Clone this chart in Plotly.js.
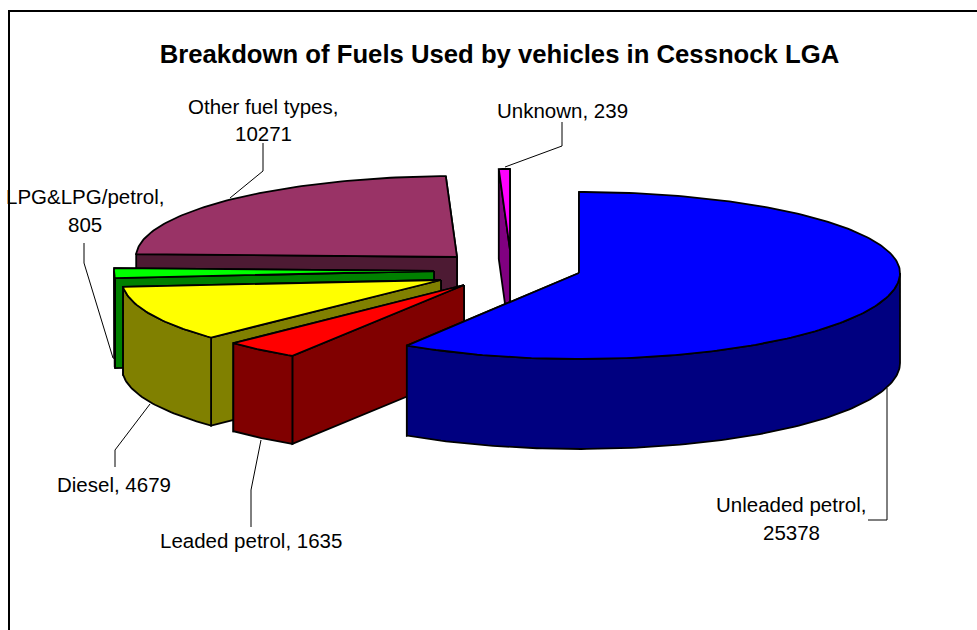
<!DOCTYPE html>
<html>
<head>
<meta charset="utf-8">
<script src="https://cdn.plot.ly/plotly-3.0.1.min.js"></script>
<style>html,body{margin:0;padding:0;background:#fff}#c{width:977px;height:630px}</style>
</head>
<body>
<div id="c"></div>
<script>
// ---- data, clockwise from 12 o'clock ----
const categories = ['Unleaded petrol','Leaded petrol','Diesel','LPG&LPG/petrol','Other fuel types','Unknown'];
const values = [25378,1635,4679,805,10271,239];
const topColors = ['#0000ff','#ff0000','#ffff00','#00ff00','#993366','#ff00ff'];
const sideColors = ['#000080','#800000','#808000','#008000','#4d1a33','#800080'];

// ---- 3D pie projection (explosion centre of each slice, in pixels) ----
const centreX = [579,464,441,434,457,510];
const centreY = [273,285,280,271,257,250];
const radiusX = [321,320,319,320,321,321];
const radiusFront = [86,84,83,86,86,86];
const depth = [90,88,88,90,90,90];
const radiusBack = 81;
const paintOrder = [4,5,3,2,1,0];

// ---- labels: first line, second line positions ----
const labelX = [791,250.5,114,84.5,263,562];
const labelY = [[504,532],[540],[484],[196,224],[106,133],[110]];
const wrapped = [true,false,false,true,true,false];
const leaderX = [[887,887,868],[261,251,251],[150,115,115],[84,84,113],[263,263,230],[505,562,562]];
const leaderY = [[388,520,520],[440,490,527],[404,450,467],[243,263,358],[143,171,198],[167,146,122]];
const frameX = [9,9,977], frameY = [630,11,11];

const total = values.reduce((a,b)=>a+b,0);
function pt(i,deg){
  const r = deg*Math.PI/180, c = Math.cos(r);
  return [centreX[i]+radiusX[i]*Math.sin(r), centreY[i]-(c>0?radiusBack:radiusFront[i])*c];
}
function arc(i,a,b){
  const out=[]; const n=Math.max(2,Math.ceil(Math.abs(b-a)));
  for(let k=0;k<=n;k++) out.push(pt(i,a+(b-a)*k/n));
  return out;
}
function poly(points,fill){
  const xs=points.map(p=>p[0]).concat(points[0][0]);
  const ys=points.map(p=>p[1]).concat(points[0][1]);
  return {type:'scatter',mode:'lines',x:xs,y:ys,fill:'toself',fillcolor:fill,
          line:{color:'#000',width:1.8,shape:'linear'},hoverinfo:'skip',showlegend:false};
}
const starts=[]; let run=0;
values.forEach(v=>{starts.push(run/total*360); run+=v;});

const traces=[];
paintOrder.forEach(i=>{
  const a=starts[i], b=a+values[i]/total*360, apex=[centreX[i],centreY[i]];
  const face=d=>{const p=pt(i,d);return {y:p[1],pts:[apex,p,[p[0],p[1]+depth[i]],[apex[0],apex[1]+depth[i]]]};};
  [face(a),face(b)].sort((m,n)=>m.y-n.y).forEach(f=>traces.push(poly(f.pts,sideColors[i])));
  const lo=Math.max(a,90), hi=Math.min(b,270);
  if(hi>lo){
    const front=arc(i,lo,hi);
    const back=front.map(p=>[p[0],p[1]+depth[i]]).reverse();
    traces.push(poly(front.concat(back),sideColors[i]));
  }
  traces.push(poly([apex].concat(arc(i,a,b)),topColors[i]));
});
categories.forEach((c,i)=>traces.push({type:'scatter',mode:'lines',x:leaderX[i],y:leaderY[i],
  line:{color:'#000',width:1},hoverinfo:'skip',showlegend:false}));
traces.push({type:'scatter',mode:'lines',x:frameX,y:frameY,line:{color:'#000',width:2},hoverinfo:'skip',showlegend:false});

const labelFont={family:'"Liberation Sans",Arial,sans-serif',size:20.5,color:'#000'};
const annotations=[];
function addText(text,x,y){
  annotations.push({text,x,y,xref:'x',yref:'y',showarrow:false,xanchor:'center',yanchor:'middle',font:labelFont});
}
categories.forEach((c,i)=>{
  if(wrapped[i]){ addText(c+',',labelX[i],labelY[i][0]); addText(String(values[i]),labelX[i],labelY[i][1]); }
  else addText(c+', '+values[i],labelX[i],labelY[i][0]);
});

const layout={
  width:977,height:630,margin:{l:0,r:0,t:0,b:0},
  paper_bgcolor:'#fff',plot_bgcolor:'#fff',showlegend:false,
  xaxis:{range:[0,977],visible:false,fixedrange:true},
  yaxis:{range:[630,0],visible:false,fixedrange:true},
  title:{text:'<b>Breakdown of Fuels Used by vehicles in Cessnock LGA</b>',
    x:499.5/977,xanchor:'center',y:1-54/630,yanchor:'middle',
    font:{family:'"Liberation Sans",Arial,sans-serif',size:25.7,color:'#000'}},
  annotations
};
Plotly.newPlot('c',traces,layout,{displayModeBar:false,staticPlot:true});
</script>
</body>
</html>
